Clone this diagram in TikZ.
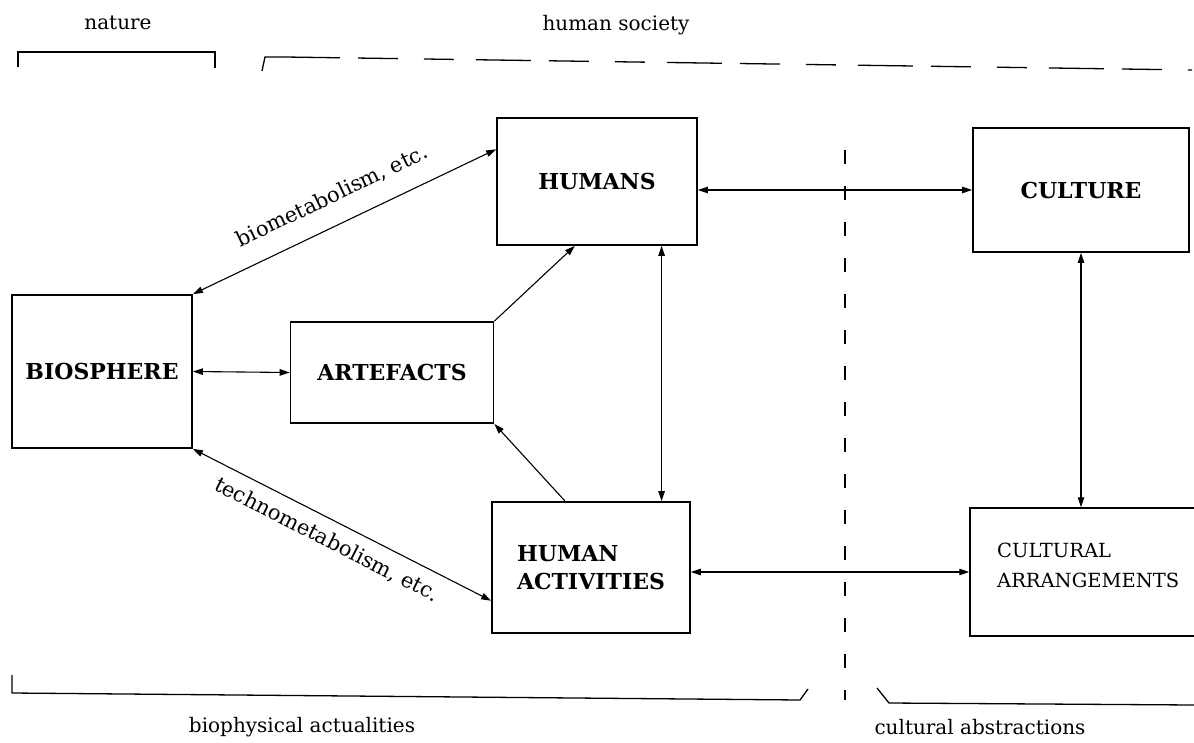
\documentclass[tikz,border=0pt]{standalone}
\usepackage{fontspec}
\setmainfont{DejaVu Serif}
\usetikzlibrary{arrows.meta,calc}
\begin{document}
\begin{tikzpicture}[x=1pt,y=-1pt,
  box/.style={draw,line width=1.8pt,inner sep=0pt,align=center,
    font=\fontsize{22}{28}\selectfont\bfseries},
  lbl/.style={font=\fontsize{20}{24}\selectfont},
  slbl/.style={font=\fontsize{21}{24}\selectfont},
  link/.style={line width=1.1pt,{Triangle[length=10pt,width=6.5pt]}-{Triangle[length=10pt,width=6.5pt]}},
  onelink/.style={line width=1.1pt,-{Triangle[length=10pt,width=6.5pt]}},
  brk/.style={line width=1.3pt},
  divider/.style={line width=1.2pt,dash pattern=on 14pt off 22pt}
]
\useasboundingbox (0,0) rectangle (1194,742);
% boxes
\node[box,minimum width=180pt,minimum height=153pt] (bio) at (102,371.5) {BIOSPHERE};
\node[box,minimum width=203pt,minimum height=101pt] (art) at (392,372.5) {ARTEFACTS};
\node[box,minimum width=200pt,minimum height=127pt] (hum) at (597,181.5) {HUMANS};
\node[box,minimum width=198pt,minimum height=131pt,align=left] (ha) at (591,567.5) {HUMAN\\ACTIVITIES};
\node[box,minimum width=216pt,minimum height=124pt] (cul) at (1081,190) {CULTURE};
\node[box,line width=1.5pt,minimum width=240pt,minimum height=128pt] (ca) at (1090,572) {};
\node[anchor=west,align=left,inner sep=0pt,font=\fontsize{19.5}{30}\selectfont] (catext) at (997,565) {CULTURAL\\ARRANGEMENTS};
% connectors
\coordinate (humw) at ($(hum.north west)!0.25!(hum.south west)$);
\coordinate (haw) at ($(ha.north west)!0.75!(ha.south west)$);
\coordinate (hums) at ($(hum.south west)!0.39!(hum.south east)$);
\coordinate (han) at ($(ha.north west)!0.37!(ha.north east)$);
\coordinate (humv) at ($(hum.south west)!0.82!(hum.south east)$);
\draw[link] (bio.north east) -- node[pos=0.5,above=15pt,sloped,slbl] (biolbl) {biometabolism, etc.} (humw);
\draw[link] (bio.south east) -- node[pos=0.48,below=7pt,sloped,slbl] (techlbl) {technometabolism, etc.} (haw);
\draw[link] (bio.east) -- (art.west);
\draw[onelink] (art.north east) -- (hums);
\draw[onelink] (han) -- (art.south east);
\draw[link] (humv) -- (humv |- ha.north);
\draw[link] (hum.east |- cul.west) -- (cul.west);
\draw[link] (cul.south) -- (cul.south |- ca.north);
\draw[link] (ha.east |- ca.west) -- (ca.west);
% divider
\coordinate (dtop) at (845,150);
\coordinate (dbot) at (845,700);
\draw[divider] (dtop) -- (dbot);
% top brackets
\coordinate (n1) at (18,67); \coordinate (n2) at (18,52);
\coordinate (n3) at (215,52); \coordinate (n4) at (215,68);
\draw[brk] (n1) -- (n2) -- (n3) -- (n4);
\node[lbl] (nature) at (118,23) {nature};
\coordinate (h1) at (262,71); \coordinate (h2) at (265,57);
\coordinate (h3) at (1192,70);
\draw[brk] (h1) -- (h2) -- (285,57);
\draw[brk,dash pattern=on 55pt off 18pt on 40pt off 26pt on 30pt off 22pt] (285,57) -- (h3);
\node[lbl] (society) at (616,25) {human society};
% bottom brackets
\coordinate (b1) at (12,675); \coordinate (b2) at (12,693);
\coordinate (b3) at (800,700); \coordinate (b4) at (808,689);
\draw[brk] (b1) -- (b2) -- (b3) -- (b4);
\node[lbl] (bioph) at (302,727) {biophysical actualities};
\coordinate (c1) at (877,688); \coordinate (c2) at (889,703);
\coordinate (c3) at (1194,705);
\draw[brk] (c1) -- (c2) -- (c3);
\node[lbl] (cultab) at (980,727) {cultural abstractions};
\end{tikzpicture}
\end{document}
